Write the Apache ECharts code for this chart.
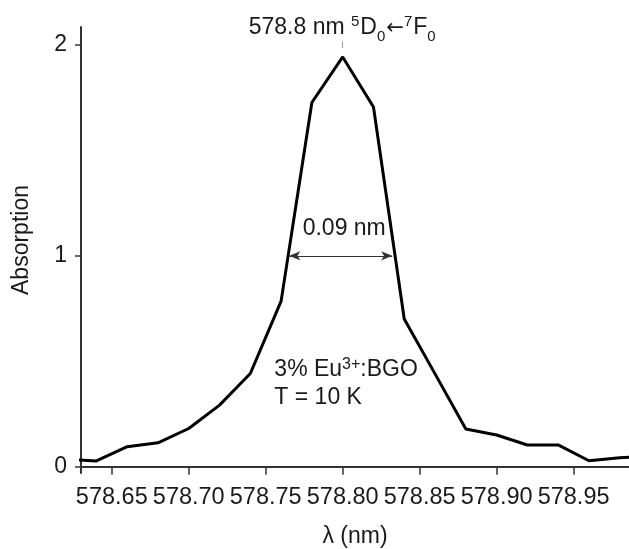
<!DOCTYPE html>
<html>
<head>
<meta charset="utf-8">
<script src="https://cdn.jsdelivr.net/npm/echarts@6/dist/echarts.min.js"></script>
<style>
  html, body { margin: 0; padding: 0; background: #fff; }
  #chart { width: 629px; height: 549px; }
</style>
</head>
<body>
<div id="chart"></div>
<script>
// wavelength (nm) and absorption
const wavelength = [578.62, 578.64, 578.66, 578.68, 578.70, 578.72, 578.74, 578.76, 578.78, 578.80,
                    578.82, 578.84, 578.86, 578.88, 578.90, 578.92, 578.94, 578.96, 578.98, 579.00]
const absorption = [0.036, 0.027, 0.095, 0.113, 0.181, 0.292, 0.442, 0.785, 1.727, 1.943,
                    1.706, 0.700, 0.440, 0.179, 0.150, 0.103, 0.103, 0.028, 0.042, 0.050]
const xTicks = [578.65, 578.70, 578.75, 578.80, 578.85, 578.90, 578.95]
const yTicks = [0, 1, 2]

// annotation anchors (data space)
const peakX = 578.80
const fwhmStart = 578.7653
const fwhmEnd = 578.8322
const fwhmY = 1.0

const font = 'Liberation Sans, Arial, sans-serif'
const ink = '#1a1a1a'
const axisColor = '#333'

const chart = echarts.init(document.getElementById('chart'))

function chart_option(){
    return {
        animation: false,
        grid: { left: 81, right: 0, top: 27, bottom: 76, outerBoundsMode: 'none' },
        xAxis: {
            type: 'value',
            min: 578.63,
            max: 578.986,
            name: 'λ (nm)',
            nameLocation: 'middle',
            nameGap: 52,
            nameTextStyle: { fontFamily: font, fontSize: 23, color: ink },
            axisLine: { lineStyle: { color: axisColor, width: 2 } },
            axisTick: { customValues: xTicks, length: 8, lineStyle: { color: axisColor, width: 1.5 } },
            axisLabel: {
                customValues: xTicks,
                margin: 13,
                fontFamily: font, fontSize: 23.5, color: ink,
                formatter: v => v.toFixed(2)
            },
            splitLine: { show: false }
        },
        yAxis: {
            type: 'value',
            min: -0.03,
            max: 2.085,
            name: 'Absorption',
            nameLocation: 'middle',
            nameGap: 48,
            nameTextStyle: { fontFamily: font, fontSize: 23, color: ink, padding: [0, 0, 0, 20] },
            axisLine: { show: true, lineStyle: { color: axisColor, width: 2 } },
            axisTick: { show: true, customValues: yTicks, length: 6, lineStyle: { color: axisColor, width: 1.5 } },
            axisLabel: {
                customValues: yTicks,
                margin: 14,
                fontFamily: font, fontSize: 23, color: ink
            },
            splitLine: { show: false }
        },
        series: [
            {
                type: 'line',
                data: wavelength.map((w, i) => [w, absorption[i]]),
                symbol: 'none',
                clip: true,
                lineStyle: { color: '#000', width: 3 },
                markLine: {
                    silent: true,
                    animation: false,
                    label: { show: false },
                    data: [
                        [
                            { coord: [fwhmStart, fwhmY], symbol: 'arrow', symbolSize: [7, 11], lineStyle: { color: axisColor, width: 1, type: 'solid' } },
                            { coord: [fwhmEnd, fwhmY], symbol: 'arrow', symbolSize: [7, 11] }
                        ],
                        [
                            { coord: [peakX, 1.985], symbol: 'none', lineStyle: { color: '#999', width: 1, type: 'solid' } },
                            { coord: [peakX, 2.015], symbol: 'none' }
                        ]
                    ]
                },
                markPoint: {
                    silent: true,
                    symbol: 'circle',
                    symbolSize: 0,
                    data: [
                        {
                            coord: [peakX, 2.08],
                            label: {
                                show: true, position: 'inside',
                                fontFamily: font, fontSize: 23, color: ink,
                                formatter: '{m|578.8 nm }{sup|5}{m|D}{sub|0}{arr|←}{sup|7}{m|F}{sub|0}',
                                rich: {
                                    m: { fontFamily: font, fontSize: 23, color: ink, lineHeight: 32, verticalAlign: 'middle' },
                                    arr: { fontFamily: 'DejaVu Sans', fontSize: 21, color: ink, lineHeight: 32, verticalAlign: 'middle' },
                                    sup: { fontFamily: font, fontSize: 15, color: ink, lineHeight: 32, verticalAlign: 'top', padding: [2, 1, 0, 0] },
                                    sub: { fontFamily: font, fontSize: 15, color: ink, lineHeight: 32, verticalAlign: 'bottom', padding: [0, 1, 0, 0] }
                                }
                            }
                        },
                        {
                            coord: [578.801, 1.127],
                            label: {
                                show: true, position: 'inside',
                                fontFamily: font, fontSize: 23, color: ink,
                                formatter: '0.09 nm'
                            }
                        },
                        {
                            coord: [578.7556, 0.392],
                            label: {
                                show: true, position: 'right', distance: 0,
                                fontFamily: font, fontSize: 23, color: ink,
                                formatter: '{m|3% Eu}{sup|3+}{m|:BGO}\n{m|T = 10 K}',
                                rich: {
                                    m: { fontFamily: font, fontSize: 23, color: ink, lineHeight: 28, verticalAlign: 'middle' },
                                    sup: { fontFamily: font, fontSize: 16, color: ink, lineHeight: 28, verticalAlign: 'top', padding: [1, 0, 0, 0] }
                                }
                            }
                        }
                    ]
                }
            }
        ]
    }
}

chart.setOption(chart_option())
</script>
</body>
</html>
